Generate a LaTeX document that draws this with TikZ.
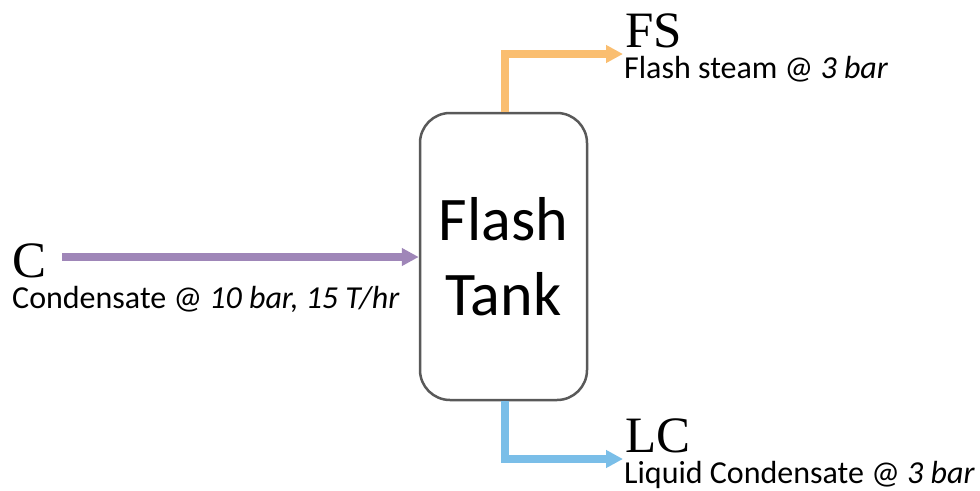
\documentclass[tikz,border=0pt]{standalone}
\usepackage{fontspec}
\setmainfont{Carlito}
\newfontfamily\serifl{Liberation Serif}
\usetikzlibrary{arrows.meta}
\definecolor{cpurple}{RGB}{159,134,184}
\definecolor{corange}{RGB}{250,190,112}
\definecolor{cblue}{RGB}{122,190,232}
\definecolor{cgray}{RGB}{89,89,89}
\begin{document}
\begin{tikzpicture}[x=1pt,y=-1pt,
  tankbox/.style={draw=cgray,line width=2.5pt,rounded corners=30pt,minimum width=167pt,minimum height=287pt,inner sep=0pt,align=center,font=\fontsize{62}{76}\selectfont},
  stream/.style={line width=8pt,-{Triangle[length=17pt,width=17pt]}},
  biglabel/.style={anchor=base west,inner sep=0pt,font=\serifl\fontsize{51}{51}\selectfont},
  sublabel/.style={anchor=base west,inner sep=0pt,font=\fontsize{32}{32}\selectfont}]
\useasboundingbox (0,0) rectangle (980,490);
\node[tankbox] (tank) at (503.5,256.5) {Flash\\[-0.5pt]Tank};
\coordinate (cin) at (62,257);
\coordinate (fsend) at (623,54);
\coordinate (lcend) at (623,459);
\draw[stream,cpurple] (cin) -- (cin -| tank.west);
\draw[stream,corange] (tank.north -| 505,0) |- (fsend);
\draw[stream,cblue] (tank.south -| 505,0) |- (lcend);
\node[biglabel] (c) at (12,277) {C};
\node[sublabel] (csub) at (12,308) {Condensate @ \textit{10 bar, 15 T/hr}};
\node[biglabel] (fs) at (625,47) {FS};
\node[sublabel] (fssub) at (624,78) {Flash steam @ \textit{3 bar}};
\node[biglabel] (lc) at (625,452) {LC};
\node[sublabel] (lcsub) at (624,483) {Liquid Condensate @ \textit{3 bar}};
\end{tikzpicture}
\end{document}
